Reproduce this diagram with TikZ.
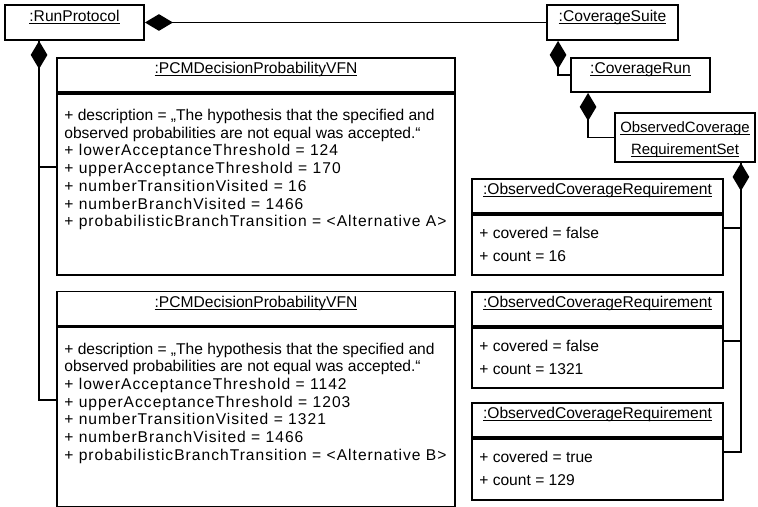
\documentclass[tikz,border=0pt]{standalone}
\usepackage{fontspec}
\setmainfont{Liberation Sans}
\newfontfamily\spacedfont[LetterSpace=6.5]{Liberation Sans}
\usetikzlibrary{positioning,arrows.meta}

% underlined object name, rule just under the baseline
\newcommand{\objname}[1]{$\underline{\smash{\hbox{#1}}}$}

\begin{document}
\begin{tikzpicture}[
  x=0.75pt, y=-0.75pt,
  every node/.style={font=\fontsize{11.7}{13.3}\selectfont, inner sep=0pt},
  obj/.style={draw, line width=1.4pt, align=center},
  head/.style={obj, minimum height=25.5pt},
  attrs/.style={anchor=north west, align=left, inner xsep=6pt, inner ysep=12pt},
  reqattrs/.style={attrs, font=\fontsize{11.7}{16.9}\selectfont, inner ysep=10pt},
  link/.style={line width=1.4pt},
  comp/.style={link, {Diamond[length=21pt, width=12.5pt]}-}
]
\useasboundingbox (0,0) rectangle (758,507);

% protocol and coverage chain
\node[obj, minimum width=104.25pt, minimum height=26.25pt] (run) at (74.5,22.5) {\objname{:RunProtocol}};
\node[obj, minimum width=98.25pt, minimum height=26.25pt] (suite) at (612.5,22.5) {\objname{:CoverageSuite}};
\node[obj, minimum width=104.25pt, minimum height=25.5pt] (cvrun) at (640.5,75) {\objname{:CoverageRun}};
\node[obj, minimum width=105pt, minimum height=36.75pt, font=\fontsize{11.2}{16.5}\selectfont] (reqset) at (685,137.5)
  {\rule{0pt}{10.8pt}\objname{ObservedCoverage}\\\objname{RequirementSet}};

% verification results
\node[head, minimum width=298.5pt] (pcm1) at (256,75) {\objname{:PCMDecisionProbabilityVFN}};
\node[obj, minimum width=298.5pt, minimum height=135.75pt, below=0pt of pcm1] (pcm1body) {};
\node[attrs] (pcm1attr) at (pcm1body.north west) {%
  + description = „The hypothesis that the specified and\\
  observed probabilities are not equal was accepted.“\\
  \spacedfont + lowerAcceptanceThreshold = 124\\
  \spacedfont + upperAcceptanceThreshold = 170\\
  \spacedfont + numberTransitionVisited = 16\\
  \spacedfont + numberBranchVisited = 1466\\
  \spacedfont + probabilisticBranchTransition = <Alternative A>};

\node[head, minimum width=298.5pt] (pcm2) at (256,308.5) {\objname{:PCMDecisionProbabilityVFN}};
\node[obj, minimum width=298.5pt, minimum height=135pt, below=0pt of pcm2] (pcm2body) {};
\node[attrs] (pcm2attr) at (pcm2body.north west) {%
  + description = „The hypothesis that the specified and\\
  observed probabilities are not equal was accepted.“\\
  \spacedfont + lowerAcceptanceThreshold = 1142\\
  \spacedfont + upperAcceptanceThreshold = 1203\\
  \spacedfont + numberTransitionVisited = 1321\\
  \spacedfont + numberBranchVisited = 1466\\
  \spacedfont + probabilisticBranchTransition = <Alternative B>};

% observed requirements
\node[head, minimum width=188.25pt] (req1) at (597.5,196) {\objname{:ObservedCoverageRequirement}};
\node[obj, minimum width=188.25pt, minimum height=45pt, below=0pt of req1] (req1body) {};
\node[reqattrs] (req1attr) at (req1body.north west) {+ covered = false\\+ count = 16};

\node[head, minimum width=188.25pt] (req2) at (597.5,309) {\objname{:ObservedCoverageRequirement}};
\node[obj, minimum width=188.25pt, minimum height=45pt, below=0pt of req2] (req2body) {};
\node[reqattrs] (req2attr) at (req2body.north west) {+ covered = false\\+ count = 1321};

\node[head, minimum width=188.25pt] (req3) at (597.5,420) {\objname{:ObservedCoverageRequirement}};
\node[obj, minimum width=188.25pt, minimum height=45.75pt, below=0pt of req3] (req3body) {};
\node[reqattrs] (req3attr) at (req3body.north west) {+ covered = true\\+ count = 129};

% compositions
\draw[comp] (run) -- (suite);
\draw[comp] ([xshift=9pt]suite.south west) |- (cvrun.west);
\draw[comp] ([xshift=13.5pt]cvrun.south west) |- (reqset.west);

\draw[comp] ([xshift=26.25pt]run.south west) |- ([yshift=12.75pt]pcm1body.west);
\draw[link] ([xshift=26.25pt]run.south west) |- ([yshift=12.75pt]pcm2body.west);

\draw[comp] ([xshift=-11.25pt]reqset.south east) |- ([yshift=12.75pt]req1body.east);
\draw[link] ([xshift=-11.25pt]reqset.south east) |- ([yshift=12.75pt]req2body.east);
\draw[link] ([xshift=-11.25pt]reqset.south east) |- ([yshift=12.75pt]req3body.east);
\end{tikzpicture}
\end{document}
